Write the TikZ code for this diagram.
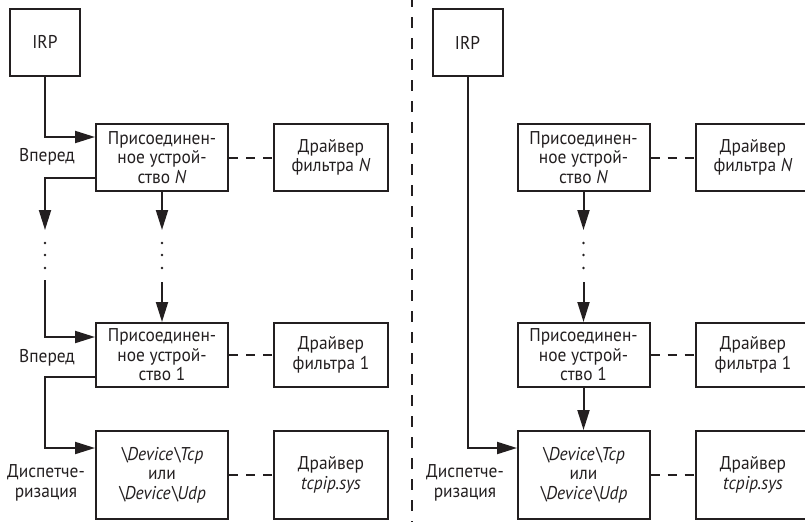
\documentclass[tikz,border=0pt]{standalone}
\usepackage{fontspec}
\setmainfont[FakeStretch=0.94]{PT Sans}
\usetikzlibrary{arrows.meta}
\definecolor{ink}{HTML}{231F20}
\begin{document}
\begin{tikzpicture}[x=1pt,y=-1pt,
  txt/.style={font=\fontsize{18.5}{19.5}\selectfont, text=ink},
  box/.style={txt, draw=ink, line width=2pt, inner sep=0pt, align=center},
  irpbox/.style={box, minimum width=70pt, minimum height=67pt},
  attbox/.style={box, minimum width=132pt, minimum height=67pt},
  att1box/.style={box, minimum width=132pt, minimum height=64pt},
  devbox/.style={box, minimum width=132pt, minimum height=88pt},
  filtbox/.style={box, minimum width=114pt, minimum height=67pt},
  filt1box/.style={box, minimum width=114pt, minimum height=64pt},
  tcpbox/.style={box, minimum width=114pt, minimum height=88pt},
  lbl/.style={txt, inner sep=0pt, align=center},
  conn/.style={draw=ink, line width=2pt},
  arr/.style={conn, -{Triangle[length=20pt,width=12pt]}},
  dsh/.style={draw=ink, line width=2pt, dash pattern=on 9pt off 8pt},
  divider/.style={draw=ink, line width=2.2pt, dash pattern=on 11pt off 10pt, dash phase=4pt},
  pt/.style={circle, fill=ink, inner sep=0pt, minimum size=2.6pt}]
\useasboundingbox (0,0) rectangle (805,522);
\clip (0,0) rectangle (805,522);

% ---------------- left panel ----------------
\node[irpbox] (irpL) at (45,42) {IRP};
\node[attbox] (attNL) at (162,157.5) {Присоединен-\\ное устрой-\\ство \textit{N}};
\node[filtbox] (filtNL) at (331,157.5) {Драйвер\\фильтра \textit{N}};
\node[att1box] (att1L) at (162,355) {Присоединен-\\ное устрой-\\ство 1};
\node[filt1box] (filt1L) at (331,355) {Драйвер\\фильтра 1};
\node[devbox] (devL) at (162,475) {\textit{\textbackslash Device\textbackslash Tcp}\\или\\\textit{\textbackslash Device\textbackslash Udp}};
\node[tcpbox] (tcpL) at (331,475) {Драйвер\\\textit{tcpip.sys}};

\node[lbl] (fwdNL) at (47,157) {Вперед};
\node[lbl] (fwd1L) at (47,358) {Вперед};
\node[lbl] (dispL) at (46,483) {Диспетче-\\ризация};

\coordinate (inNL) at (95,137);
\coordinate (outNL) at (96,178);
\coordinate (turnNL) at (45,178);
\coordinate (endAL) at (45,230);
\coordinate (endBL) at (162,230);
\coordinate (startAL) at (45,280);
\coordinate (startBL) at (162,282);
\coordinate (in1L) at (95,337);
\coordinate (out1L) at (96,377);
\coordinate (turn1L) at (45,377);
\coordinate (inDL) at (95,448);

\draw[arr] (irpL.south) |- (inNL);
\draw[arr] (outNL) -- (turnNL) -- (endAL);
\draw[arr] (attNL.south) -- (endBL);
\foreach \yy [count=\i] in {243,255,268}{
  \node[pt] (dAL\i) at (45,\yy) {};
  \node[pt] (dBL\i) at (162,\yy) {};
}
\draw[arr] (startAL) |- (in1L);
\draw[arr] (startBL) -- (att1L.north);
\draw[arr] (out1L) -- (turn1L) |- (inDL);

\draw[dsh] (attNL) -- (filtNL);
\draw[dsh] (att1L) -- (filt1L);
\draw[dsh] (devL) -- (tcpL);

% ---------------- divider ----------------
\coordinate (divT) at (412,0);
\coordinate (divB) at (412,522);
\draw[divider] (divT) -- (divB);

% ---------------- right panel ----------------
\node[irpbox] (irpR) at (467.5,42.5) {IRP};
\node[attbox] (attNR) at (583.5,157.5) {Присоединен-\\ное устрой-\\ство \textit{N}};
\node[filtbox] (filtNR) at (753,157.5) {Драйвер\\фильтра \textit{N}};
\node[att1box] (att1R) at (583.5,355) {Присоединен-\\ное устрой-\\ство 1};
\node[filt1box] (filt1R) at (753,355) {Драйвер\\фильтра 1};
\node[devbox] (devR) at (583.5,475) {\textit{\textbackslash Device\textbackslash Tcp}\\или\\\textit{\textbackslash Device\textbackslash Udp}};
\node[tcpbox] (tcpR) at (753,475) {Драйвер\\\textit{tcpip.sys}};

\node[lbl] (dispR) at (465,483) {Диспетче-\\ризация};

\coordinate (inDR) at (517,448);
\coordinate (endBR) at (583.5,230);
\coordinate (startBR) at (583.5,282);

\draw[arr] (irpR.south) |- (inDR);
\draw[arr] (attNR.south) -- (endBR);
\foreach \yy [count=\i] in {243,255,268}{
  \node[pt] (dBR\i) at (583.5,\yy) {};
}
\draw[arr] (startBR) -- (att1R.north);
\draw[arr] (att1R.south) -- (devR.north);

\draw[dsh] (attNR) -- (filtNR);
\draw[dsh] (att1R) -- (filt1R);
\draw[dsh] (devR) -- (tcpR);
\end{tikzpicture}
\end{document}
